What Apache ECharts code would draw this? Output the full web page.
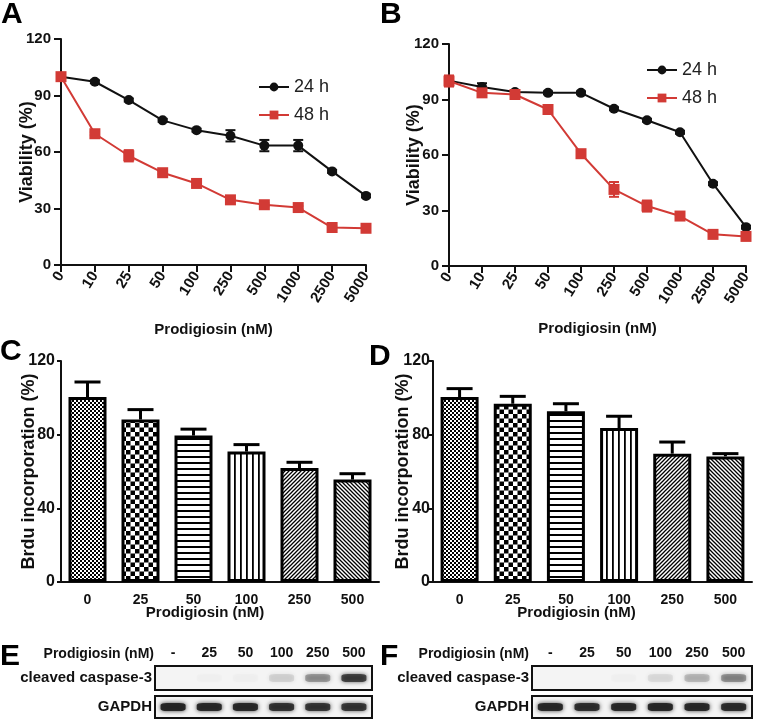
<!DOCTYPE html>
<html><head><meta charset="utf-8">
<script src="https://cdn.jsdelivr.net/npm/echarts@6/dist/echarts.min.js"></script>
<style>html,body{margin:0;padding:0;background:#fff}#c{width:762px;height:726px}</style>
</head><body><div id="c"></div>
<script>
// ---------- data ----------
const doseLabels = ['0','10','25','50','100','250','500','1000','2500','5000'];
const viabA24 = [100, 97.3, 87.6, 76.8, 71.6, 68.6, 63.4, 63.4, 49.7, 36.7];
const viabA24Err = [0.8, 0.8, 0.8, 0.8, 0.8, 3, 3, 3, 0.8, 0.8];
const viabA48 = [100, 69.7, 58, 49, 43.3, 34.6, 32, 30.5, 19.9, 19.5];
const viabA48Err = [1, 0.8, 3, 0.8, 0.8, 0.8, 0.8, 0.8, 0.8, 0.8];
const viabB24 = [100.2, 96.8, 94, 93.6, 93.6, 85, 78.8, 72.3, 44.5, 21];
const viabB24Err = [1, 2, 0.8, 0.8, 0.8, 0.8, 0.8, 0.8, 0.8, 0.8];
const viabB48 = [100, 93.6, 92.7, 84.6, 60.7, 41.4, 32.4, 27, 17.1, 16];
const viabB48Err = [3, 1, 1, 1, 1, 4, 3, 1, 1, 1];
const viabTicks = [0, 120, 30];

const brduCats = ['0','25','50','100','250','500'];
const brduC = [100.4, 88.2, 79.5, 70.8, 61.9, 55.6];
const brduCErr = [8.2, 5.4, 3.5, 3.8, 3.1, 3.2];
const brduD = [100.4, 96.8, 92.7, 83.6, 69.7, 68.2];
const brduDErr = [4.6, 4.0, 4.1, 6.4, 6.3, 1.5];
const brduTicks = [0, 120, 40];

const lanes = ['-','25','50','100','250','500'];
const casp3E = [0, 0.01, 0.015, 0.1, 0.33, 0.75];
const gapdhE = [0.95, 0.92, 0.92, 0.85, 0.82, 0.82];
const casp3F = [0, 0, 0.01, 0.08, 0.2, 0.36];
const gapdhF = [0.92, 0.88, 0.92, 0.94, 0.92, 0.9];

// ---------- styles ----------
const FONT = "'Liberation Sans', Arial, sans-serif";
const BLACK = '#111';
const RED = '#d23a35';

function pat(w, h, draw) {
  const c = document.createElement('canvas');
  c.width = w; c.height = h;
  const g = c.getContext('2d');
  g.fillStyle = '#fff'; g.fillRect(0, 0, w, h);
  g.fillStyle = '#000'; g.strokeStyle = '#000';
  draw(g, w, h);
  return { image: c, repeat: 'repeat' };
}
const patterns = [
  pat(4, 4, g => { g.fillRect(0, 0, 2, 2); g.fillRect(2, 2, 2, 2); }),
  pat(9, 9, g => { g.fillRect(0, 0, 4.5, 4.5); g.fillRect(4.5, 4.5, 4.5, 4.5); }),
  pat(6, 6, g => { g.fillRect(0, 0, 6, 2); }),
  pat(6, 6, g => { g.fillRect(0, 0, 1.8, 6); }),
  pat(4, 4, (g, s) => { g.lineWidth = 1.3; g.beginPath();
    g.moveTo(0, s); g.lineTo(s, 0); g.moveTo(-1, 1); g.lineTo(1, -1); g.moveTo(s - 1, s + 1); g.lineTo(s + 1, s - 1); g.stroke(); }),
  pat(4, 4, (g, s) => { g.lineWidth = 1.3; g.beginPath();
    g.moveTo(0, 0); g.lineTo(s, s); g.moveTo(-1, s - 1); g.lineTo(1, s + 1); g.moveTo(s - 1, -1); g.lineTo(s + 1, 1); g.stroke(); })
];

// ---------- axes helpers ----------
function lineX(gi, nameGap) {
  return {
    gridIndex: gi, type: 'category', boundaryGap: false, data: doseLabels,
    name: 'Prodigiosin (nM)', nameLocation: 'middle', nameGap: nameGap, nameMoveOverlap: false,
    nameTextStyle: { fontFamily: FONT, fontWeight: 'bold', fontSize: 15, color: BLACK },
    axisLine: { lineStyle: { color: BLACK, width: 2 } },
    axisTick: { length: 7, lineStyle: { width: 2, color: BLACK } },
    axisLabel: { rotate: 58, margin: 8, interval: 0, fontFamily: FONT, fontWeight: 'bold', fontSize: 15, color: BLACK },
    splitLine: { show: false }
  };
}
function valY(gi, ticks, name, nameGap, margin, tickLen, labelSize) {
  return {
    gridIndex: gi, type: 'value', min: ticks[0], max: ticks[1], interval: ticks[2],
    name: name, nameLocation: 'middle', nameGap: nameGap, nameMoveOverlap: false,
    nameTextStyle: { fontFamily: FONT, fontWeight: 'bold', fontSize: 18, color: BLACK },
    axisLine: { show: true, lineStyle: { color: BLACK, width: 2 } },
    axisTick: { show: true, length: tickLen, lineStyle: { width: 2, color: BLACK } },
    axisLabel: { margin: margin, fontFamily: FONT, fontWeight: 'bold', fontSize: labelSize, color: BLACK },
    splitLine: { show: false }
  };
}
function barX(gi, padRight) {
  return {
    gridIndex: gi, type: 'category', data: brduCats,
    name: 'Prodigiosin (nM)', nameLocation: 'middle', nameGap: 23, nameMoveOverlap: false,
    nameTextStyle: { fontFamily: FONT, fontWeight: 'bold', fontSize: 15, color: BLACK, padding: [0, padRight, 0, 0] },
    axisLine: { lineStyle: { color: BLACK, width: 2 } },
    axisTick: { alignWithLabel: true, length: 7, lineStyle: { width: 2, color: BLACK } },
    axisLabel: { margin: 11, interval: 0, fontFamily: FONT, fontWeight: 'bold', fontSize: 14, color: BLACK }
  };
}
function blotXTop(gi) {
  return {
    gridIndex: gi, type: 'category', data: lanes, position: 'top',
    axisLine: { show: false }, axisTick: { show: false },
    axisLabel: { margin: 6, interval: 0, fontFamily: FONT, fontWeight: 'bold', fontSize: 14, color: BLACK }
  };
}
function blotXHidden(gi) {
  return { gridIndex: gi, type: 'category', data: lanes, show: false };
}
function blotY(gi, label) {
  return {
    gridIndex: gi, type: 'category', data: [label],
    axisLine: { show: false }, axisTick: { show: false },
    axisLabel: { margin: 3, fontFamily: FONT, fontWeight: 'bold', fontSize: 15, color: BLACK }
  };
}

// ---------- series helpers ----------
function lineSeries(name, vals, gi, color, symbol, size) {
  return {
    type: 'line', name: name, xAxisIndex: gi, yAxisIndex: gi, data: vals,
    symbol: symbol, symbolSize: size, z: 3,
    lineStyle: { color: color, width: 2 }, itemStyle: { color: color },
    emphasis: { disabled: true }
  };
}
function errSeries(vals, errs, gi, color, capW, lw, upOnly) {
  return {
    type: 'custom', xAxisIndex: gi, yAxisIndex: gi, z: 2, silent: true,
    data: vals.map((v, i) => [i, v, errs[i]]),
    renderItem: (params, api) => {
      const i = api.value(0), v = api.value(1), e = api.value(2);
      const top = api.coord([i, v + e]);
      const bot = api.coord([i, upOnly ? v : v - e]);
      const st = { stroke: color, lineWidth: lw };
      const kids = [
        { type: 'line', shape: { x1: top[0], y1: top[1], x2: bot[0], y2: bot[1] }, style: st },
        { type: 'line', shape: { x1: top[0] - capW / 2, y1: top[1], x2: top[0] + capW / 2, y2: top[1] }, style: st }
      ];
      if (!upOnly) kids.push({ type: 'line', shape: { x1: bot[0] - capW / 2, y1: bot[1], x2: bot[0] + capW / 2, y2: bot[1] }, style: st });
      return { type: 'group', children: kids };
    }
  };
}
function barSeries(vals, gi) {
  return {
    type: 'bar', xAxisIndex: gi, yAxisIndex: gi, barWidth: 38, z: 3,
    data: vals.map((v, i) => ({ value: v, itemStyle: { color: patterns[i] } })),
    itemStyle: { borderColor: '#000', borderWidth: 3 },
    emphasis: { disabled: true }
  };
}
function bandSeries(vals, gi) {
  return {
    type: 'scatter', xAxisIndex: gi, yAxisIndex: gi, symbol: 'roundRect', symbolSize: [25, 8],
    data: vals.map((v, i) => ({ value: [i, 0], itemStyle: { opacity: v } })),
    itemStyle: { color: '#222', shadowBlur: 4, shadowColor: '#333' },
    emphasis: { disabled: true }, silent: true
  };
}

const blotGrid = (left, top, width, height) => ({
  left, top, width, height, show: true, backgroundColor: '#f4f4f4', borderColor: '#111', borderWidth: 2,
  outerBoundsMode: 'none'
});
const plotGrid = (left, top, width, height) => ({ left, top, width, height, outerBoundsMode: 'none' });

const letter = (t, x, y) => ({ type: 'text', left: x, top: y,
  style: { text: t, font: "bold 30px 'Liberation Sans', Arial, sans-serif", fill: '#000' } });
const header = (x, y) => ({ type: 'text', x: x, y: y,
  style: { text: 'Prodigiosin (nM)', align: 'right', verticalAlign: 'middle',
    font: "bold 14px 'Liberation Sans', Arial, sans-serif", fill: BLACK } });

const option = {
  backgroundColor: '#fff',
  animation: false,
  grid: [
    plotGrid(61, 39, 305, 226),
    plotGrid(449, 44, 297, 222),
    plotGrid(61, 361, 318, 221),
    plotGrid(433, 361, 319, 221),
    blotGrid(155, 666, 217, 24),
    blotGrid(155, 696, 217, 22),
    blotGrid(532, 666, 220, 24),
    blotGrid(532, 696, 220, 22)
  ],
  xAxis: [
    lineX(0, 57), lineX(1, 55), barX(2, 30), barX(3, 32),
    blotXTop(4), blotXHidden(5), blotXTop(6), blotXHidden(7)
  ],
  yAxis: [
    valY(0, viabTicks, 'Viability (%)', 25, 10, 7, 15),
    valY(1, viabTicks, 'Viability (%)', 26, 10, 7, 15),
    valY(2, brduTicks, 'Brdu incorporation (%)', 23, 6, 4, 16),
    valY(3, brduTicks, 'Brdu incorporation (%)', 21, 3, 4, 16),
    blotY(4, 'cleaved caspase-3'), blotY(5, 'GAPDH'),
    blotY(6, 'cleaved caspase-3'), blotY(7, 'GAPDH')
  ],
  legend: [
    { data: ['24 h', '48 h'], orient: 'vertical', left: 253, top: 73, itemWidth: 30, itemHeight: 11, itemGap: 10,
      textStyle: { fontFamily: FONT, fontSize: 18, color: '#222' } },
    { data: ['24 h', '48 h'], orient: 'vertical', left: 641, top: 56, itemWidth: 30, itemHeight: 11, itemGap: 10,
      textStyle: { fontFamily: FONT, fontSize: 18, color: '#222' } }
  ],
  series: [
    errSeries(viabA24, viabA24Err, 0, BLACK, 10, 2, false),
    errSeries(viabA48, viabA48Err, 0, RED, 10, 2, false),
    lineSeries('24 h', viabA24, 0, BLACK, 'circle', 10),
    lineSeries('48 h', viabA48, 0, RED, 'rect', 11),
    errSeries(viabB24, viabB24Err, 1, BLACK, 10, 2, false),
    errSeries(viabB48, viabB48Err, 1, RED, 10, 2, false),
    lineSeries('24 h', viabB24, 1, BLACK, 'circle', 10),
    lineSeries('48 h', viabB48, 1, RED, 'rect', 11),
    barSeries(brduC, 2),
    errSeries(brduC, brduCErr, 2, '#000', 26, 3, true),
    barSeries(brduD, 3),
    errSeries(brduD, brduDErr, 3, '#000', 26, 3, true),
    bandSeries(casp3E, 4), bandSeries(gapdhE, 5),
    bandSeries(casp3F, 6), bandSeries(gapdhF, 7)
  ],
  graphic: [
    letter('A', 1, 0), letter('B', 380, 0), letter('C', 0, 337),
    letter('D', 369, 342), letter('E', 0, 642), letter('F', 380, 642),
    header(154, 654), header(529, 654)
  ]
};
const chart = echarts.init(document.getElementById('c'), null, { renderer: 'canvas' });
chart.setOption(option);
</script></body></html>
